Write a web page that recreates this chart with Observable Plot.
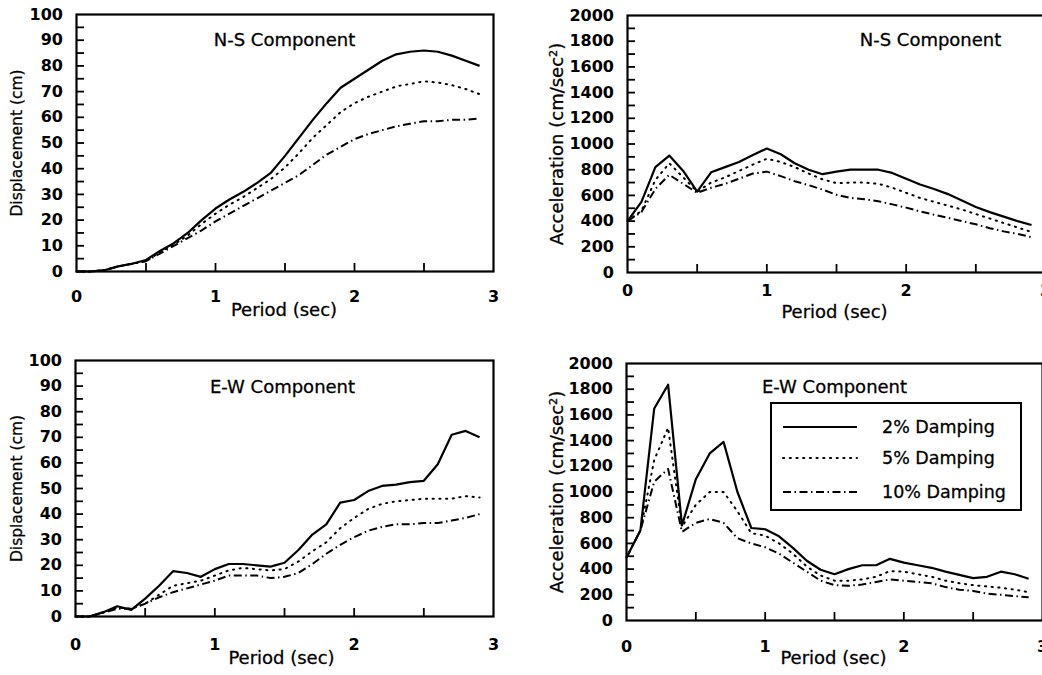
<!DOCTYPE html>
<html>
<head>
<meta charset="utf-8">
<script src="https://cdn.jsdelivr.net/npm/d3@7"></script>
<script src="https://cdn.jsdelivr.net/npm/@observablehq/plot@0.6"></script>
<style>
  html, body { margin: 0; padding: 0; background: #fff; }
  #chart { position: relative; width: 1042px; height: 675px; overflow: hidden; background: #fff; font-family: "DejaVu Sans", sans-serif; color: #000; }
  .panel { position: absolute; }
  #legend { position: absolute; left: 770px; top: 402px; width: 252px; height: 109px; border: 2px solid #000; box-sizing: border-box; background: #fff; }
</style>
</head>
<body>
<div id="chart"></div>
<script>
// ---- data ----
const periods = [0, 0.1, 0.2, 0.3, 0.4, 0.5, 0.6, 0.7, 0.8, 0.9, 1.0, 1.1, 1.2, 1.3, 1.4, 1.5, 1.6, 1.7, 1.8, 1.9, 2.0, 2.1, 2.2, 2.3, 2.4, 2.5, 2.6, 2.7, 2.8, 2.9];
const dampingLabels = ["2% Damping", "5% Damping", "10% Damping"];
const xMajorTicks = [0, 1, 2, 3];
const xMinorTicks = [0.5, 1, 1.5, 2, 2.5];
const dispMajorTicks = [0, 10, 20, 30, 40, 50, 60, 70, 80, 90, 100];
const dispMinorTicks = [5, 10, 15, 20, 25, 30, 35, 40, 45, 50, 55, 60, 65, 70, 75, 80, 85, 90, 95];
const accMajorTicks = [0, 200, 400, 600, 800, 1000, 1200, 1400, 1600, 1800, 2000];
const accMinorTicks = [100, 200, 300, 400, 500, 600, 700, 800, 900, 1000, 1100, 1200, 1300, 1400, 1500, 1600, 1700, 1800, 1900];

// N-S displacement (cm)
const nsDisp2  = [0, 0, 0.5, 2, 3, 4.5, 8, 11, 15, 20, 24.5, 28, 31, 34.5, 38.5, 45, 52, 59, 65.5, 71.5, 75, 78.5, 82, 84.5, 85.5, 86, 85.5, 84, 82, 80];
const nsDisp5  = [0, 0, 0.5, 2, 3, 4, 7.5, 10.5, 14, 18.5, 22.5, 26, 29, 32.5, 36, 40.5, 46, 52, 57, 62, 65.5, 68, 70, 72, 73, 74, 73.5, 72.5, 71, 69];
const nsDisp10 = [0, 0, 0.5, 2, 3, 4, 7, 10, 13, 16, 19.5, 22.5, 25.5, 28.5, 31.5, 34.5, 37.5, 41.5, 45.5, 48.5, 51.5, 53.5, 55, 56.5, 57.5, 58.5, 58.5, 59, 59, 59.5];
// N-S acceleration (cm/sec^2)
const nsAcc2  = [400, 550, 820, 910, 790, 630, 780, 820, 860, 915, 965, 920, 850, 800, 765, 785, 800, 800, 800, 775, 730, 685, 650, 610, 560, 510, 470, 435, 400, 370];
const nsAcc5  = [400, 480, 720, 850, 740, 630, 700, 740, 790, 840, 885, 860, 820, 770, 725, 695, 700, 700, 690, 660, 620, 580, 550, 520, 490, 455, 420, 385, 350, 315];
const nsAcc10 = [400, 470, 650, 760, 690, 620, 660, 690, 730, 770, 785, 750, 710, 680, 645, 605, 580, 570, 555, 530, 505, 475, 450, 425, 400, 375, 345, 320, 300, 275];
// E-W displacement (cm)
const ewDisp2  = [0, 0, 1.7, 4, 2.6, 7, 12, 17.7, 17, 15.5, 18.5, 20.5, 20.5, 20, 19.5, 21, 26, 32, 36, 44.5, 45.5, 49, 51, 51.5, 52.5, 53, 59.5, 71, 72.5, 70];
const ewDisp5  = [0, 0, 1.5, 3.5, 3, 5, 8.5, 12, 13, 14, 16, 18, 19, 18.5, 18, 18.5, 21.5, 25.5, 29, 34.5, 38.5, 42, 44, 45, 45.5, 46, 46, 46, 47, 46.5];
const ewDisp10 = [0, 0, 1.5, 3, 3, 5, 7.5, 9.5, 11, 12.5, 14, 16, 16, 16, 15, 15.5, 17, 20.5, 24.5, 28, 31, 33.5, 35, 36, 36, 36.5, 36.5, 37.5, 38.5, 40];
// E-W acceleration (cm/sec^2)
const ewAcc2  = [490, 700, 1650, 1835, 740, 1100, 1300, 1390, 1000, 720, 710, 655, 565, 465, 395, 360, 400, 430, 430, 480, 450, 430, 410, 380, 355, 330, 340, 380, 360, 325];
const ewAcc5  = [490, 700, 1250, 1500, 730, 900, 1000, 1000, 850, 680, 660, 600, 520, 420, 350, 310, 310, 320, 340, 385, 380, 360, 340, 310, 290, 275, 265, 255, 240, 220];
const ewAcc10 = [490, 700, 1080, 1180, 690, 760, 790, 760, 640, 600, 570, 520, 450, 380, 310, 275, 270, 280, 300, 320, 310, 300, 290, 260, 240, 230, 210, 200, 190, 180];

// ---- styles for the three damping levels ----
const lineStyles = [
  {strokeWidth: 2.2, strokeDasharray: null, strokeLinecap: "butt"},
  {strokeWidth: 2, strokeDasharray: "1.2,5.5", strokeLinecap: "round"},
  {strokeWidth: 2, strokeDasharray: "8,3.5,1.5,3.5", strokeLinecap: "butt"}
];

const TICK_LEN = 8; // px, drawn inward
const chart = document.getElementById("chart");
const fmt = d => String(d);

function rows(values) {
  return periods.map((p, i) => ({p, v: values[i]}));
}

function panel(cfg) {
  const plotW = cfg.width - cfg.ml - cfg.mr;
  const plotH = cfg.height - cfg.mt - cfg.mb;
  const [x0, x1] = [0, 3];
  const [y0, y1] = cfg.yDomain;
  const dyTick = (y1 - y0) * TICK_LEN / plotH;
  const dxTick = (x1 - x0) * TICK_LEN / plotW;
  const ink = {fill: "black", stroke: "black", strokeWidth: 0.3};
  const tickRowsX = xMinorTicks.map(v => ({v}));
  const tickRowsY = cfg.yMinor.map(v => ({v}));
  const marks = [
    Plot.axisX(xMajorTicks, {tickSize: 0, tickPadding: cfg.xTickPad, fontSize: cfg.tickFont, fontWeight: "bold", tickFormat: fmt, label: null}),
    Plot.axisY(cfg.yMajor, {tickSize: 0, tickPadding: 13.5, fontSize: cfg.tickFont, fontWeight: "bold", tickFormat: fmt, label: null})
  ];
  cfg.series.forEach((vals, i) => {
    marks.push(Plot.line(rows(vals), {x: "p", y: "v", stroke: "black", ...lineStyles[i], strokeLinejoin: "round"}));
  });
  marks.push(
    Plot.frame({stroke: "black", strokeWidth: 2.2}),
    // inward tick marks (x at bottom, y at left)
    Plot.ruleX(tickRowsX, {x: "v", y1: y0, y2: y0 + dyTick, stroke: "black", strokeWidth: 1.8}),
    Plot.ruleY(tickRowsY, {y: "v", x1: x0, x2: x0 + dxTick, stroke: "black", strokeWidth: 1.8}),
    Plot.text([cfg.title], {frameAnchor: "top-left", dx: cfg.titleDx, dy: cfg.titleDy, fontSize: 18, textAnchor: "middle", ...ink}),
    Plot.text(["Period (sec)"], {frameAnchor: "bottom", dx: cfg.xLabelDx, dy: cfg.xLabelDy, fontSize: 18, textAnchor: "middle", ...ink}),
    Plot.text([cfg.yLabel], {frameAnchor: "left", rotate: -90, dx: cfg.yLabelDx, fontSize: cfg.yLabelFont, textAnchor: "middle", ...ink})
  );
  const svg = Plot.plot({
    width: cfg.width, height: cfg.height,
    marginLeft: cfg.ml, marginRight: cfg.mr, marginTop: cfg.mt, marginBottom: cfg.mb,
    x: {domain: [x0, x1], label: null},
    y: {domain: cfg.yDomain, label: null},
    style: {fontFamily: "DejaVu Sans, sans-serif", fontSize: "16px", color: "black", background: "transparent", overflow: "visible"},
    marks
  });
  svg.classList.add("panel");
  svg.style.left = cfg.left + "px";
  svg.style.top = cfg.top + "px";
  chart.appendChild(svg);
}

panel({left: 0, top: 0, width: 520, height: 330, ml: 76, mr: 27, mt: 14, mb: 59,
  yDomain: [0, 100], yMajor: dispMajorTicks, yMinor: dispMinorTicks,
  series: [nsDisp2, nsDisp5, nsDisp10], title: "N-S Component", titleDx: 208, titleDy: 19,
  yLabel: "Displacement (cm)", yLabelDx: -59, yLabelFont: 15.5, tickFont: 16, xTickPad: 19,
  xLabelDx: -1, xLabelDy: 44});

panel({left: 520, top: 0, width: 530, height: 330, ml: 107, mr: 5, mt: 15, mb: 58,
  yDomain: [0, 2000], yMajor: accMajorTicks, yMinor: accMinorTicks,
  series: [nsAcc2, nsAcc5, nsAcc10], title: "N-S Component", titleDx: 303, titleDy: 18,
  yLabel: "Acceleration (cm/sec²)", yLabelDx: -70, yLabelFont: 18, tickFont: 16, xTickPad: 12,
  xLabelDx: -2, xLabelDy: 45});

panel({left: 0, top: 330, width: 520, height: 345, ml: 75, mr: 27, mt: 30, mb: 59,
  yDomain: [0, 100], yMajor: dispMajorTicks, yMinor: dispMinorTicks,
  series: [ewDisp2, ewDisp5, ewDisp10], title: "E-W Component", titleDx: 207, titleDy: 20,
  yLabel: "Displacement (cm)", yLabelDx: -58, yLabelFont: 15.5, tickFont: 16, xTickPad: 22,
  xLabelDx: -3, xLabelDy: 47});

panel({left: 520, top: 330, width: 530, height: 345, ml: 106, mr: 8, mt: 33, mb: 55,
  yDomain: [0, 2000], yMajor: accMajorTicks, yMinor: accMinorTicks,
  series: [ewAcc2, ewAcc5, ewAcc10], title: "E-W Component", titleDx: 208, titleDy: 17,
  yLabel: "Acceleration (cm/sec²)", yLabelDx: -69, yLabelFont: 18, tickFont: 16, xTickPad: 20,
  xLabelDx: -1, xLabelDy: 43});

// ---- legend ----
const legend = document.createElement("div");
legend.id = "legend";
chart.appendChild(legend);
const lsvg = d3.select(legend).append("svg").attr("width", 248).attr("height", 105);
const rowY = [23, 54, 88];
dampingLabels.forEach((lab, i) => {
  const st = lineStyles[i];
  lsvg.append("line").attr("x1", 11).attr("x2", 85).attr("y1", rowY[i]).attr("y2", rowY[i])
    .attr("stroke", "black").attr("stroke-width", st.strokeWidth)
    .attr("stroke-dasharray", st.strokeDasharray).attr("stroke-linecap", st.strokeLinecap);
  lsvg.append("text").attr("x", 110).attr("y", rowY[i]).attr("dy", "0.35em")
    .attr("font-family", "DejaVu Sans, sans-serif").attr("font-size", 17.5)
    .attr("fill", "black").attr("stroke", "black").attr("stroke-width", 0.3).text(lab);
});
</script>
</body>
</html>
